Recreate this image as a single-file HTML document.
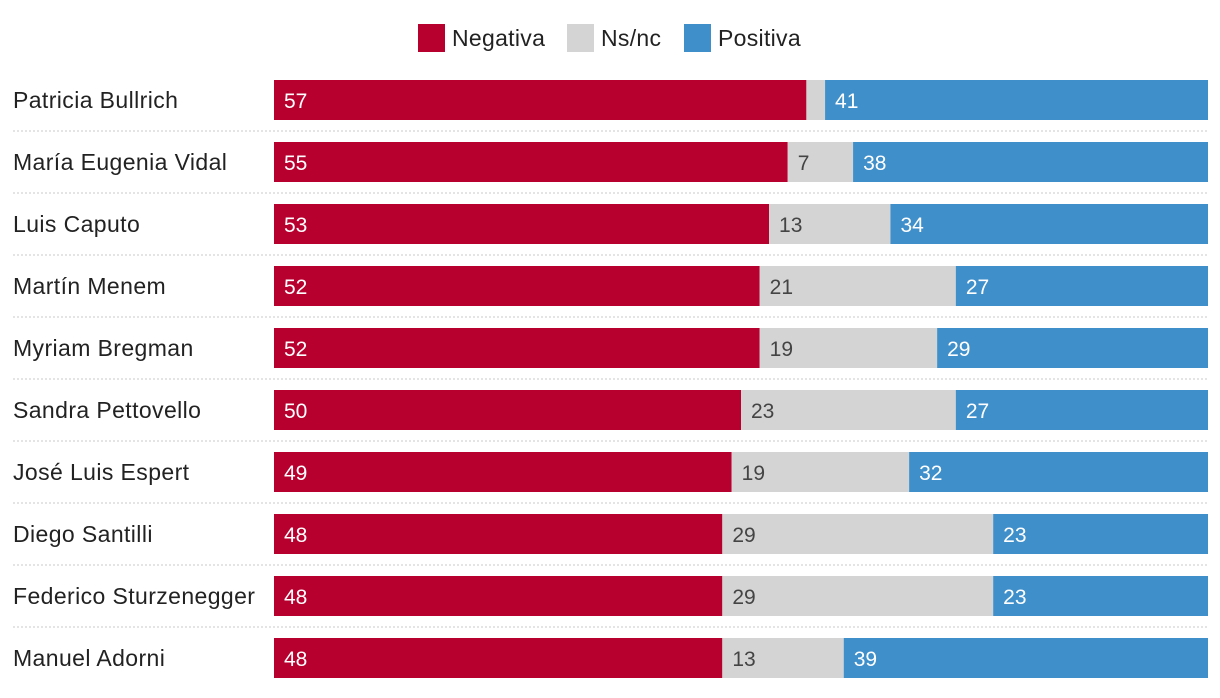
<!DOCTYPE html>
<html><head><meta charset="utf-8"><style>
body{margin:0;width:1220px;height:698px;background:#fff;font-family:"Liberation Sans",sans-serif;overflow:hidden}
svg{display:block}
</style></head><body>
<svg id="chart" width="1220" height="698" xmlns="http://www.w3.org/2000/svg"></svg>
<script>
const names=["Patricia Bullrich","María Eugenia Vidal","Luis Caputo","Martín Menem","Myriam Bregman","Sandra Pettovello","José Luis Espert","Diego Santilli","Federico Sturzenegger","Manuel Adorni"];
const negativa=[57,55,53,52,52,50,49,48,48,48];
const nsnc=[2,7,13,21,19,23,19,29,29,13];
const positiva=[41,38,34,27,29,27,32,23,23,39];
const seriesNames=["Negativa","Ns/nc","Positiva"];
const colors=["#b8002f","#d4d4d4","#3f8fcb"];
const textColors=["#fff","#444","#fff"];
const svg=document.getElementById('chart');
const NS="http://www.w3.org/2000/svg";
const x0=274,x1=1208,top0=80,step=62,bh=40;
function xs(v){return v*(x1-x0)/100;}
function mk(tag,attrs,parent){const e=document.createElementNS(NS,tag);for(const k in attrs)e.setAttribute(k,attrs[k]);(parent||svg).appendChild(e);return e;}
const legX=[418,567,684];
seriesNames.forEach((s,i)=>{
  const g=mk('g',{});
  
  
  mk('rect',{x:legX[i],y:24,width:27,height:28,fill:colors[i]},g);
  const t=mk('text',{x:legX[i]+34,y:46,'font-size':23,'letter-spacing':0.3,fill:'#222'},g);t.textContent=s;
});
const data=[negativa,nsnc,positiva];
names.forEach((n,r)=>{
  const y=top0+r*step;
  const g=mk('g',{});
  
  
  const lab=mk('text',{x:13,y:y+28,'font-size':23,'letter-spacing':0.4,fill:'#222'},g);
  
  
  lab.textContent=n;
  let cx=x0;
  data.forEach((arr,i)=>{
    const w=xs(arr[r]);
    const rc=mk('rect',{x:cx,y:y,width:w,height:bh,fill:colors[i]},g);
    
    
    if(arr[r]>=5){
      const t=mk('text',{x:cx+10,y:y+28,'font-size':21,fill:textColors[i]},g);
      
      
      t.textContent=arr[r];
    }
    cx+=w;
  });
  if(r<names.length-1){
    const l=mk('line',{x1:13,x2:1208,y1:y+51,y2:y+51,stroke:'#c8c8c8','stroke-width':1,'stroke-dasharray':'2,2'},g);
    
    
  }
});
</script>
</body></html>
